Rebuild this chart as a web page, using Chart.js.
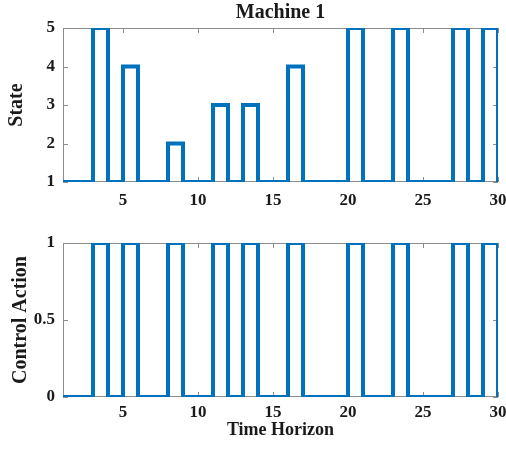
<!DOCTYPE html>
<html>
<head>
<meta charset="utf-8">
<script src="https://cdn.jsdelivr.net/npm/chart.js@4.4.1/dist/chart.umd.min.js"></script>
<style>
  body { margin: 0; background: #fff; }
  #wrap { position: relative; width: 506px; height: 449px; }
  canvas { position: absolute; left: 0; }
  #stateChart { top: 0; }
  #actionChart { top: 215px; }
</style>
</head>
<body>
<div id="wrap">
  <canvas id="stateChart" width="506" height="215"></canvas>
  <canvas id="actionChart" width="506" height="234"></canvas>
</div>
<script>
const timeSteps = [1, 2, 3, 4, 5, 6, 7, 8, 9, 10, 11, 12, 13, 14, 15, 16, 17, 18, 19, 20, 21, 22, 23, 24, 25, 26, 27, 28, 29, 30];
const states = [1, 1, 5, 1, 4, 1, 1, 2, 1, 1, 3, 1, 3, 1, 1, 4, 1, 1, 1, 5, 1, 1, 5, 1, 1, 1, 5, 1, 5, 1];
const actions = [0, 0, 1, 0, 1, 0, 0, 1, 0, 0, 1, 0, 1, 0, 0, 1, 0, 0, 0, 1, 0, 0, 1, 0, 0, 0, 1, 0, 1, 0];
const xTicks = [5, 10, 15, 20, 25, 30];
const stateTicks = [1, 2, 3, 4, 5];
const actionTicks = [0, 0.5, 1];

const lineBlue = "#0072BD";
const axisGray = "#8c8c8c";
const textColor = "#1a1a1a";
const serif = "'Liberation Serif', 'Times New Roman', serif";

// matlab style box with inward ticks
const boxTicks = {
  id: "boxTicks",
  beforeDatasetsDraw(chart) {
    const { ctx, chartArea: a, scales: { x, y } } = chart;
    ctx.save();
    ctx.strokeStyle = axisGray;
    ctx.lineWidth = 1;
    ctx.strokeRect(a.left + 0.5, a.top + 0.5, a.width - 1, a.height - 1);
    ctx.beginPath();
    x.ticks.forEach((t) => {
      const px = Math.round(x.getPixelForValue(t.value)) + 0.5;
      ctx.moveTo(px, a.bottom);
      ctx.lineTo(px, a.bottom - 5);
      ctx.moveTo(px, a.top);
      ctx.lineTo(px, a.top + 5);
    });
    y.ticks.forEach((t) => {
      const py = Math.round(y.getPixelForValue(t.value)) + 0.5;
      ctx.moveTo(a.left, py);
      ctx.lineTo(a.left + 5, py);
      ctx.moveTo(a.right, py);
      ctx.lineTo(a.right - 5, py);
    });
    ctx.stroke();
    ctx.restore();
  }
};

function makeChart(id, values, yMin, yMax, yTicks, yLabel, opts) {
  const ctx = document.getElementById(id).getContext("2d");
  return new Chart(ctx, {
    type: "line",
    data: {
      datasets: [{
        data: timeSteps.map((t, i) => ({ x: t, y: values[i] })),
        borderColor: lineBlue,
        borderWidth: 4,
        pointRadius: 0,
        stepped: true,
        borderJoinStyle: "miter",
        fill: false,
      }]
    },
    plugins: [boxTicks],
    options: {
      responsive: false,
      animation: false,
      devicePixelRatio: 1,
      layout: { padding: { left: 0, right: 8, top: opts.padTop, bottom: 0 } },
      plugins: {
        legend: { display: false },
        tooltip: { enabled: false },
        title: {
          display: !!opts.title,
          text: opts.title || "",
          fullSize: false,
          color: textColor,
          font: { family: serif, size: 20, weight: "bold" },
          padding: { top: 1, bottom: 3 },
        },
      },
      scales: {
        x: {
          type: "linear",
          min: 1,
          max: 30,
          grid: { display: false, tickLength: 0 },
          border: { display: false },
          afterBuildTicks: (s) => { s.ticks = xTicks.map((v) => ({ value: v })); },
          afterFit: (s) => { s.height = opts.xHeight; s.paddingLeft = 0; s.paddingRight = 0; },
          ticks: {
            color: textColor,
            padding: opts.xTickPad,
            maxRotation: 0,
            font: { family: serif, size: 17, weight: "bold" },
            callback: (v) => String(v),
          },
          title: {
            display: !!opts.xLabel,
            text: opts.xLabel || "",
            color: textColor,
            font: { family: serif, size: 18, weight: "bold" },
            padding: { top: 0, bottom: 8 },
          },
        },
        y: {
          min: yMin,
          max: yMax,
          grid: { display: false, tickLength: 0 },
          border: { display: false },
          afterBuildTicks: (s) => { s.ticks = yTicks.map((v) => ({ value: v })); },
          afterFit: (s) => { s.width = 63; },
          ticks: {
            color: textColor,
            padding: 8,
            font: { family: serif, size: 17, weight: "bold" },
            callback: (v) => String(v),
          },
          title: {
            display: true,
            text: yLabel,
            color: textColor,
            font: { family: serif, size: 20, weight: "bold" },
            padding: { top: opts.yTitlePad, bottom: 0 },
          },
        },
      },
    },
  });
}

makeChart("stateChart", states, 1, 5, stateTicks, "State",
  { title: "Machine 1", padTop: 0, xHeight: 33, xTickPad: 8, yTitlePad: 5 });
makeChart("actionChart", actions, 0, 1, actionTicks, "Control Action",
  { padTop: 28, xHeight: 52, xTickPad: 5, xLabel: "Time Horizon", yTitlePad: 9 });
</script>
</body>
</html>
